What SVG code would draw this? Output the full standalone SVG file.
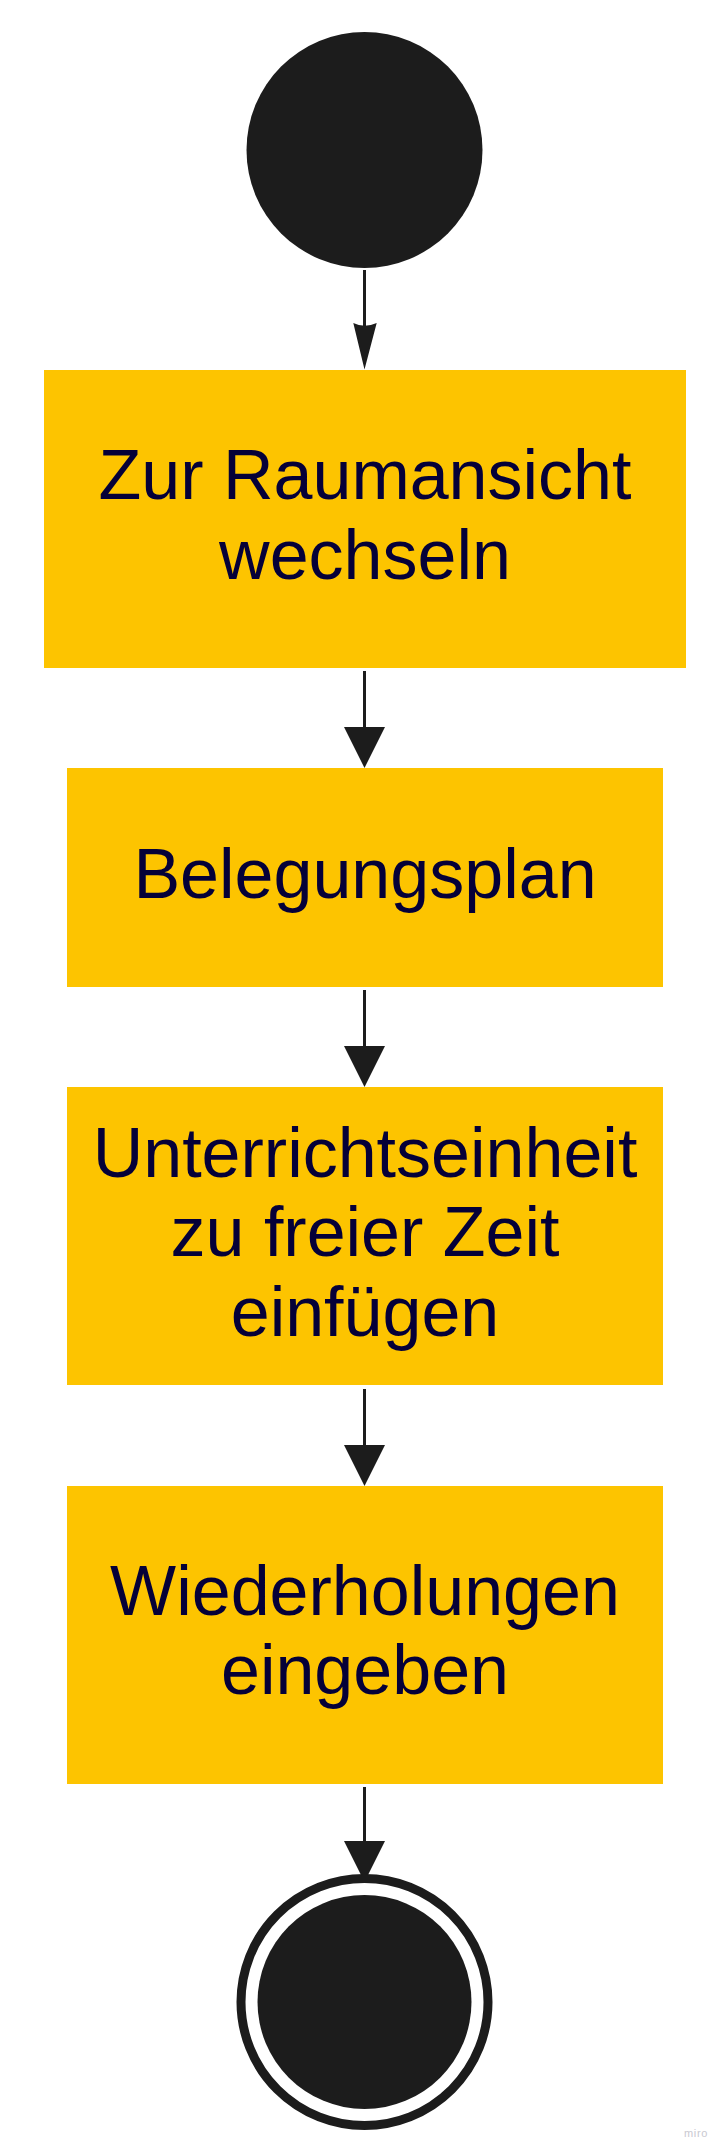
<svg xmlns="http://www.w3.org/2000/svg" width="724" height="2155" viewBox="0 0 724 2155">
<style>
.act{fill:#fdc400}
.lbl{font-family:"Liberation Sans",Arial,sans-serif;font-size:70px;fill:#050038;text-anchor:middle}
.ln{stroke:#1c1c1c;stroke-width:3;fill:none}
.hd{fill:#1c1c1c}
.dot{fill:#1c1c1c}
</style>
<rect width="724" height="2155" fill="#ffffff"/>
<g id="connectors">
<line class="ln" x1="364.5" y1="270" x2="364.5" y2="326"/>
<path class="hd" d="M353.3,323 L364.5,369.5 L376.7,323 Q364.5,328.5 353.3,323 Z"/>
<line class="ln" x1="364.5" y1="671" x2="364.5" y2="728"/>
<path class="hd" d="M344,727 L385,727 L364.5,768 Z"/>
<line class="ln" x1="364.5" y1="990" x2="364.5" y2="1047"/>
<path class="hd" d="M344,1046 L385,1046 L364.5,1087 Z"/>
<line class="ln" x1="364.5" y1="1389" x2="364.5" y2="1446"/>
<path class="hd" d="M344,1445 L385,1445 L364.5,1486 Z"/>
<line class="ln" x1="364.5" y1="1787" x2="364.5" y2="1842"/>
<path class="hd" d="M344,1841 L385,1841 L364.5,1882 Z"/>
</g>
<g id="start">
<circle class="dot" cx="364.5" cy="150" r="118"/>
</g>
<g id="node1">
<rect class="act" x="44" y="370" width="642" height="298"/>
<text class="lbl" x="365" y="499">Zur Raumansicht</text>
<text class="lbl" x="365" y="579">wechseln</text>
</g>
<g id="node2">
<rect class="act" x="67" y="768" width="596" height="219"/>
<text class="lbl" x="365" y="898">Belegungsplan</text>
</g>
<g id="node3">
<rect class="act" x="67" y="1087" width="596" height="298"/>
<text class="lbl" x="365" y="1177">Unterrichtseinheit</text>
<text class="lbl" x="365" y="1256">zu freier Zeit</text>
<text class="lbl" x="365" y="1336">einfügen</text>
</g>
<g id="node4">
<rect class="act" x="67" y="1486" width="596" height="298"/>
<text class="lbl" x="365" y="1615">Wiederholungen</text>
<text class="lbl" x="365" y="1694">eingeben</text>
</g>
<g id="end">
<circle cx="364.5" cy="2002" r="123.5" fill="#ffffff" stroke="#1c1c1c" stroke-width="9"/>
<circle class="dot" cx="364.5" cy="2002" r="107"/>
</g>
<text x="696" y="2137" font-family="'Liberation Sans',Arial,sans-serif" font-size="11" letter-spacing="0.6" fill="#c9c9d1" text-anchor="middle">miro</text>
</svg>
